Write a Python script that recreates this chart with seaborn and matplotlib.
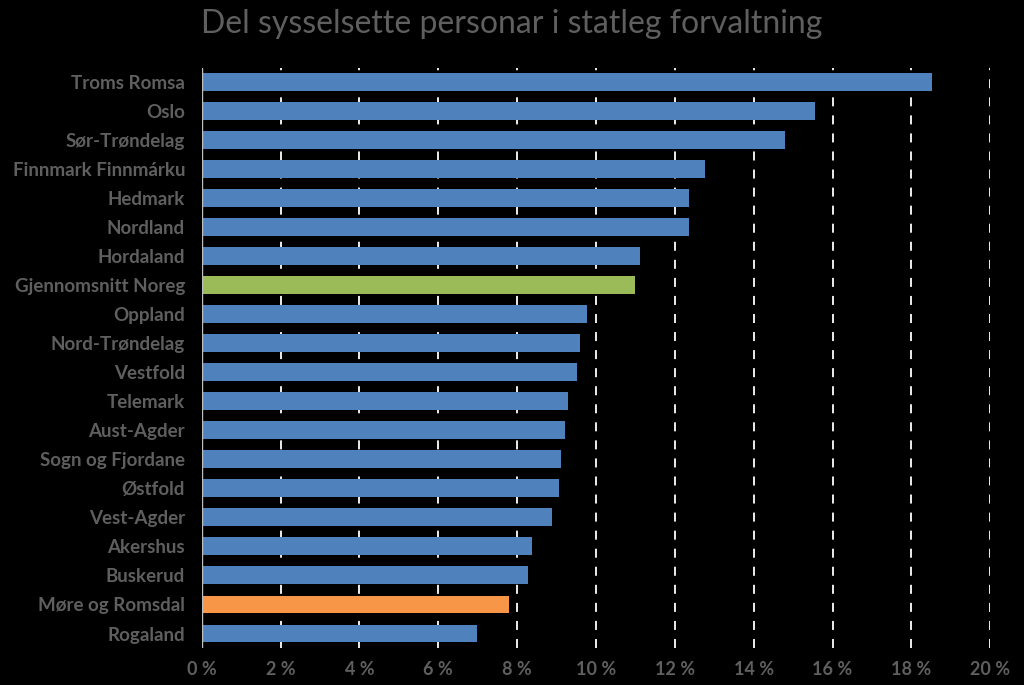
import matplotlib.pyplot as plt
import seaborn as sns
import pandas as pd

# Data (share in percent)
regions = ['Troms Romsa', 'Oslo', 'Sør-Trøndelag', 'Finnmark Finnmárku', 'Hedmark',
           'Nordland', 'Hordaland', 'Gjennomsnitt Noreg', 'Oppland', 'Nord-Trøndelag',
           'Vestfold', 'Telemark', 'Aust-Agder', 'Sogn og Fjordane', 'Østfold',
           'Vest-Agder', 'Akershus', 'Buskerud', 'Møre og Romsdal', 'Rogaland']
shares = [18.53, 15.56, 14.80, 12.77, 12.36, 12.36, 11.12, 10.99, 9.77, 9.59,
          9.52, 9.29, 9.21, 9.11, 9.06, 8.88, 8.38, 8.27, 7.79, 6.98]
ticks = [0, 2, 4, 6, 8, 10, 12, 14, 16, 18, 20]
tick_labels = ['0 %', '2 %', '4 %', '6 %', '8 %', '10 %', '12 %', '14 %', '16 %', '18 %', '20 %']

df = pd.DataFrame({'Region': regions, 'Share': shares})

blue, green, orange = '#4F81BD', '#9BBB59', '#F79646'
colors = {r: blue for r in regions}
colors['Gjennomsnitt Noreg'] = green
colors['Møre og Romsdal'] = orange

sns.set_theme(style='dark')
plt.rcParams['font.family'] = ['Lato', 'DejaVu Sans']
grey = '#5f5f5f'

fig = plt.figure(figsize=(10.24, 6.85), dpi=100, facecolor='black')
ax = fig.add_axes([0.197, 0.054, 0.770, 0.847])
ax.set_facecolor('black')

sns.barplot(data=df, x='Share', y='Region', hue='Region', palette=colors,
            order=regions, width=0.62, legend=False, ax=ax, saturation=1,
            edgecolor='none', linewidth=0)

ax.set_xlim(0, 20)
ax.set_ylim(len(regions) - 0.5, -0.5)
ax.set_xticks(ticks)
ax.set_xticklabels(tick_labels)
for t in ticks[1:]:
    ax.axvline(t, color='white', linestyle=(0, (5, 5)), linewidth=1.3, zorder=0)
ax.axvline(0, color='#bfbfbf', linewidth=1, zorder=3)
ax.grid(False)
for s in ax.spines.values():
    s.set_visible(False)

ax.set_xlabel('')
ax.set_ylabel('')
ax.tick_params(axis='x', colors=grey, labelsize=13, length=0, pad=9)
ax.tick_params(axis='y', colors=grey, labelsize=13.5, length=0, pad=12)
for lab in ax.get_yticklabels():
    lab.set_fontweight('bold')
for lab in ax.get_xticklabels():
    lab.set_fontweight('bold')

fig.text(0.5, 0.965, 'Del sysselsette personar i statleg forvaltning', color=grey,
         fontsize=23, ha='center', va='center')

fig.savefig('out.png', dpi=100, facecolor='black')
